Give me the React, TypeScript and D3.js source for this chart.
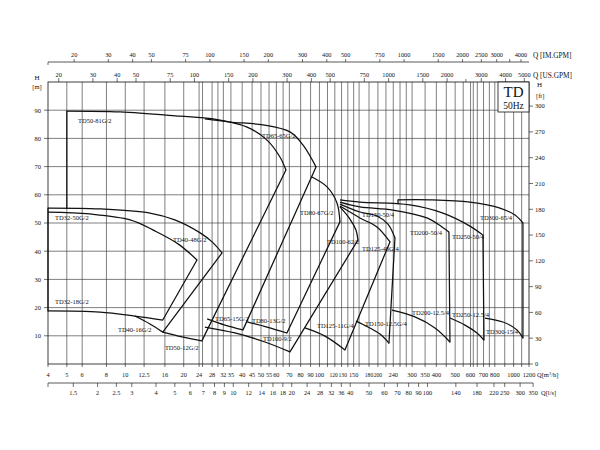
import React from 'react';
import * as d3 from 'd3';

type Pt = [number, number];

// ---------- axis tick values ----------
const qM3hLabels = [4, 5, 6, 8, 10, 12.5, 16, 20, 24, 28, 32, 35, 40, 45, 50, 55, 60, 70, 80, 90, 100, 120, 130, 150, 180, 200, 240, 300, 350, 400, 500, 600, 700, 800, 1000, 1200];
const qM3hGrid = [5, 6, 8, 10, 12.5, 16, 20, 24, 25, 28, 30, 32, 35, 40, 45, 50, 55, 60, 65, 70, 80, 90, 100, 110, 120, 130, 140, 150, 160, 180, 200, 220, 240, 260, 280, 300, 350, 400, 450, 500, 550, 600, 620, 650, 700, 750, 800, 900, 1000, 1100];
const qLsLabels = [1.5, 2, 2.5, 3, 4, 5, 6, 7, 8, 9, 10, 12, 14, 16, 18, 20, 24, 28, 32, 36, 40, 50, 60, 70, 80, 90, 100, 140, 180, 220, 250, 300, 350];
const qUsGpmLabels = [20, 30, 40, 50, 75, 100, 150, 200, 300, 400, 500, 750, 1000, 1500, 2000, 3000, 4000, 5000];
const qUsGpmMinor = [2500];
const qImGpmLabels = [20, 30, 40, 50, 75, 100, 150, 200, 300, 400, 500, 750, 1000, 1500, 2000, 2500, 3000, 4000];
const qImGpmMinor = [3500];
const hMTicks = [10, 20, 30, 40, 50, 60, 70, 80, 90];
const hFtTicks = [0, 30, 60, 90, 120, 150, 180, 210, 240, 270, 300];

const LS_TO_M3H = 3.6;
const USGPM_TO_M3H = 0.227125;
const IMGPM_TO_M3H = 0.272765;
const FT_PER_M = 1 / 0.3048;

// ---------- performance curves [Q m3/h, H m] ----------
const td32_50G: Pt[] = [[4.0, 53.9], [6.58, 53.2], [10.6, 51.1], [14.2, 47.2], [18.7, 42.6], [23.4, 36.9]];
const td32_18G: Pt[] = [[4.0, 18.8], [7.41, 18.4], [11.2, 17.0], [15.6, 15.6]];
const td40_48G: Pt[] = [[4.0, 55.3], [7.41, 55.0], [13.4, 53.5], [18.0, 51.1], [24.3, 46.5], [28.0, 43.3], [31.5, 39.4]];
const td40_16G: Pt[] = [[11.2, 17.0], [13.4, 14.2], [15.6, 11.3]];
const td50_81G: Pt[] = [[5.0, 89.7], [9.4, 89.4], [19.1, 87.9], [28.3, 86.9], [42.4, 84.0], [53.7, 79.4], [62.6, 73.4], [67.2, 68.8]];
const td50_12G: Pt[] = [[15.6, 11.3], [19.6, 9.6], [24.8, 8.2]];
const td65_65G: Pt[] = [[25.7, 86.9], [34.6, 85.8], [51.2, 84.8], [70.5, 82.3], [82.2, 77.7], [96.0, 69.9]];
const td65_15G: Pt[] = [[26.4, 16.0], [32.6, 13.8], [40.4, 12.1]];
const td80_67G: Pt[] = [[91.5, 66.3], [109.4, 62.8], [123.1, 57.1], [127.5, 50.4]];
const td80_13G: Pt[] = [[42.4, 14.9], [53.7, 13.1], [68.0, 11.0]];
const td100_62: Pt[] = [[127.5, 55.7], [143.6, 51.4], [154.2, 47.5], [157.9, 44.0]];
const td100_9: Pt[] = [[25.7, 13.1], [36.7, 11.0], [52.4, 7.8], [70.5, 4.3]];
const td125_48G: Pt[] = [[127.5, 56.0], [161.7, 51.8], [197.8, 48.6], [230.8, 43.3]];
const td125_11G: Pt[] = [[84.2, 12.8], [106.8, 9.9], [135.3, 5.0]];
const td150_50: Pt[] = [[127.5, 56.7], [161.7, 53.9], [197.8, 52.5], [225.4, 49.6], [244.8, 44.7]];
const td150_12G: Pt[] = [[154.2, 15.2], [177.8, 13.1], [205.0, 10.6], [228.0, 7.4]];
const td200_50: Pt[] = [[127.5, 57.4], [161.7, 55.7], [239.1, 54.6], [357.8, 51.8], [427.6, 48.6], [464.4, 46.8]];
const td200_12: Pt[] = [[236.3, 19.1], [310.4, 16.7], [393.4, 12.8], [470, 7.8]];
const td250_50: Pt[] = [[127.5, 58.2], [161.7, 57.4], [292.5, 56.4], [432.4, 53.5], [595.7, 48.9], [695, 45.7]];
const td250_12: Pt[] = [[470, 16.3], [561.6, 13.8], [647.6, 11.0], [703.6, 8.5]];
const td300_65: Pt[] = [[253.8, 58.2], [370.8, 58.2], [595.7, 57.4], [850.4, 55.3], [1015.8, 52.8], [1116.8, 50.0]];
const td300_15: Pt[] = [[712, 16.3], [881.2, 14.9], [1040, 12.1], [1116.8, 9.2]];

const smoothCurves: Pt[][] = [td32_50G, td32_18G, td40_48G, td40_16G, td50_81G, td50_12G, td65_65G, td65_15G, td80_67G, td80_13G, td100_62, td100_9, td125_48G, td125_11G, td150_50, td150_12G, td200_50, td200_12, td250_50, td250_12, td300_65, td300_15];

// straight boundary edges of the operating ranges
const edges: Pt[][] = [
  [[4.0, 55.3], [4.0, 18.8]],
  [[23.4, 36.9], [15.6, 15.6]],
  [[31.5, 39.4], [15.6, 11.3]],
  [[5.0, 89.7], [5.0, 55.3]],
  [[67.2, 68.8], [24.8, 8.2]],
  [[96.0, 69.9], [40.4, 12.1]],
  [[127.5, 50.4], [68.0, 11.0]],
  [[157.9, 44.0], [70.5, 4.3]],
  [[230.8, 43.3], [135.3, 5.0]],
  [[244.8, 44.7], [228.0, 7.4]],
  [[464.4, 46.8], [470, 7.8]],
  [[695, 45.7], [703.6, 8.5]],
  [[1116.8, 50.0], [1116.8, 9.2]],
  [[253.8, 56.8], [253.8, 58.2]],
];

const labelNames = ['TD50-81G/2', 'TD65-65G/2', 'TD32-50G/2', 'TD40-48G/2', 'TD80-67G/2', 'TD100-62/2', 'TD150-50/4', 'TD125-48G/4', 'TD200-50/4', 'TD250-50/4', 'TD300-65/4', 'TD32-18G/2', 'TD40-16G/2', 'TD50-12G/2', 'TD65-15G/2', 'TD80-13G/2', 'TD100-9/2', 'TD125-11G/4', 'TD150-12.5G/4', 'TD200-12.5/4', 'TD250-12.5/4', 'TD300-15/4'];
const labelQ = [5.71, 50.6, 4.35, 17.6, 79.4, 109.4, 165.6, 165.6, 292.5, 481.2, 670.8, 4.35, 9.17, 16.0, 29.0, 44.9, 51.2, 97.1, 171.6, 299.6, 481.2, 720.4];
const labelH = [85.3, 80.3, 50.9, 43.4, 53.0, 42.4, 52.0, 40.2, 45.6, 44.5, 51.2, 21.1, 11.2, 5.1, 15.1, 14.7, 8.3, 12.9, 13.3, 17.2, 16.5, 10.5];

const fmt = (v: number) => String(v);

export default function App() {
  const x = d3.scaleLog().domain([4, 1200]).range([48, 529]);
  const y = d3.scaleLinear().domain([0, 100]).range([364, 82]);
  const yFt = d3.scaleLinear().domain([0, 100 * FT_PER_M]).range([364, 82]);
  const smooth = d3.line<Pt>().x(d => x(d[0])).y(d => y(d[1])).curve(d3.curveCatmullRom.alpha(0.5));
  const straight = d3.line<Pt>().x(d => x(d[0])).y(d => y(d[1]));
  const [xL, xR] = x.range();
  const yB = y.range()[0];
  const yT = y.range()[1];
  const font = "'Liberation Serif','Times New Roman',serif";
  const ink = '#111';
  const grid = '#3a3a3a';
  const yIm = yT - 20;
  const yLs = yB + 19;
  const xRightAxis = xR;

  // tight pairs on the m3/h axis are pushed apart like in the original
  const bottomLabelProps = (q: number) => {
    if (q === 120) return { x: x(q) + 3, anchor: 'end', size: 5.6 };
    if (q === 130) return { x: x(q) - 3, anchor: 'start', size: 5.6 };
    if (q === 180 || q === 200) return { x: x(q), anchor: 'middle', size: 5.6 };
    return { x: x(q), anchor: 'middle', size: 6.3 };
  };

  return (
    <svg width={600} height={450} style={{ position: 'absolute', left: 0, top: 0, background: '#fff' }} fontFamily={font}>
      <rect x={0} y={0} width={600} height={450} fill="#fff" />
      {/* grid */}
      {qM3hGrid.map(q => (
        <line key={'gx' + q} x1={x(q)} x2={x(q)} y1={yT} y2={yB} stroke={grid} strokeWidth={0.65} />
      ))}
      {hMTicks.map(h => (
        <line key={'gy' + h} x1={xL} x2={xR} y1={y(h)} y2={y(h)} stroke={grid} strokeWidth={0.65} />
      ))}
      {/* frame */}
      <rect x={xL} y={yT} width={xR - xL} height={yB - yT} fill="none" stroke={ink} strokeWidth={0.8} />

      {/* left axis (m) */}
      {hMTicks.map(h => (
        <g key={'lm' + h}>
          <line x1={xL - 4} x2={xL} y1={y(h)} y2={y(h)} stroke={ink} strokeWidth={0.6} />
          <text x={xL - 7} y={y(h) + 2.3} fontSize={6.5} textAnchor="end" fill={ink}>{h}</text>
        </g>
      ))}
      <text x={37} y={79.5} fontSize={7} textAnchor="middle" fill={ink}>H</text>
      <text x={37} y={88.5} fontSize={6.5} textAnchor="middle" fill={ink}>[m]</text>

      {/* right axis (ft) */}
      {hFtTicks.map(h => (
        <g key={'rf' + h}>
          <line x1={xRightAxis} x2={xRightAxis + 4} y1={yFt(h)} y2={yFt(h)} stroke={ink} strokeWidth={0.6} />
          <text x={xRightAxis + 6} y={yFt(h) + 2.3} fontSize={6.5} fill={ink}>{h}</text>
        </g>
      ))}
      <text x={537} y={86.5} fontSize={7} fill={ink}>H</text>
      <text x={536} y={97.5} fontSize={6.5} fill={ink}>[ft]</text>

      {/* bottom axis m3/h */}
      {[4, ...qM3hGrid, 1200].map(q => (
        <line key={'bt' + q} x1={x(q)} x2={x(q)} y1={yB} y2={yB + 3} stroke={ink} strokeWidth={0.6} />
      ))}
      {qM3hLabels.map(q => {
        const p = bottomLabelProps(q);
        return (
          <text key={'bl' + q} x={p.x} y={yB + 12.5} fontSize={p.size} textAnchor={p.anchor} fill={ink}>{fmt(q)}</text>
        );
      })}
      <text x={537} y={yB + 13} fontSize={6.5} fill={ink}>Q[m<tspan fontSize={4.5} dy={-2.5}>3</tspan><tspan dy={2.5}>/h]</tspan></text>

      {/* bottom axis l/s */}
      <line x1={xL} x2={x(350 * LS_TO_M3H)} y1={yLs} y2={yLs} stroke={ink} strokeWidth={0.7} />
      <line x1={xL} x2={xL} y1={yLs} y2={yLs + 4} stroke={ink} strokeWidth={0.6} />
      {qLsLabels.map(v => (
        <g key={'ls' + v}>
          <line x1={x(v * LS_TO_M3H)} x2={x(v * LS_TO_M3H)} y1={yLs} y2={yLs + 4} stroke={ink} strokeWidth={0.6} />
          <text x={x(v * LS_TO_M3H)} y={yLs + 11.5} fontSize={6.3} textAnchor="middle" fill={ink}>{fmt(v)}</text>
        </g>
      ))}
      <text x={541} y={yLs + 12} fontSize={6.5} fill={ink}>Q[l/s]</text>

      {/* top axis US.GPM (on frame top) */}
      {qUsGpmLabels.map(v => (
        <g key={'us' + v}>
          <line x1={x(v * USGPM_TO_M3H)} x2={x(v * USGPM_TO_M3H)} y1={yT - 4} y2={yT} stroke={ink} strokeWidth={0.6} />
          <text x={x(v * USGPM_TO_M3H)} y={yT - 5} fontSize={6.3} textAnchor="middle" fill={ink}>{fmt(v)}</text>
        </g>
      ))}
      {qUsGpmMinor.map(v => (
        <line key={'usm' + v} x1={x(v * USGPM_TO_M3H)} x2={x(v * USGPM_TO_M3H)} y1={yT - 3} y2={yT} stroke={ink} strokeWidth={0.6} />
      ))}
      <text x={533} y={yT - 4.5} fontSize={7.3} fill={ink}>Q [US.GPM]</text>

      {/* top axis IM.GPM */}
      <line x1={xL} x2={xR} y1={yIm} y2={yIm} stroke={ink} strokeWidth={0.7} />
      <line x1={xL} x2={xL} y1={yIm} y2={yIm + 3} stroke={ink} strokeWidth={0.6} />
      {qImGpmLabels.map(v => (
        <g key={'im' + v}>
          <line x1={x(v * IMGPM_TO_M3H)} x2={x(v * IMGPM_TO_M3H)} y1={yIm - 3} y2={yIm} stroke={ink} strokeWidth={0.6} />
          <text x={x(v * IMGPM_TO_M3H)} y={yIm - 5} fontSize={6.3} textAnchor="middle" fill={ink}>{fmt(v)}</text>
        </g>
      ))}
      {qImGpmMinor.map(v => (
        <line key={'imm' + v} x1={x(v * IMGPM_TO_M3H)} x2={x(v * IMGPM_TO_M3H)} y1={yIm - 3} y2={yIm} stroke={ink} strokeWidth={0.6} />
      ))}
      <text x={533} y={yIm - 4.5} fontSize={7.3} fill={ink}>Q [IM.GPM]</text>

      {/* TD 50Hz box */}
      <rect x={498} y={yT} width={xR - 498} height={30} fill="#fff" stroke={ink} strokeWidth={0.8} />
      <text x={(498 + xR) / 2} y={yT + 14.5} fontSize={15} textAnchor="middle" fill={ink}>TD</text>
      <text x={(498 + xR) / 2} y={yT + 26.5} fontSize={9.5} textAnchor="middle" fill={ink}>50Hz</text>

      {/* curves */}
      {smoothCurves.map((c, i) => (
        <path key={'c' + i} d={smooth(c) || ''} fill="none" stroke={ink} strokeWidth={1.25} strokeLinejoin="round" />
      ))}
      {edges.map((c, i) => (
        <path key={'e' + i} d={straight(c) || ''} fill="none" stroke={ink} strokeWidth={1.25} strokeLinecap="round" />
      ))}
      {labelNames.map((t, i) => (
        <text key={'lab' + i} x={x(labelQ[i])} y={y(labelH[i])} fontSize={6.5} fill={ink}>{t}</text>
      ))}
    </svg>
  );
}
